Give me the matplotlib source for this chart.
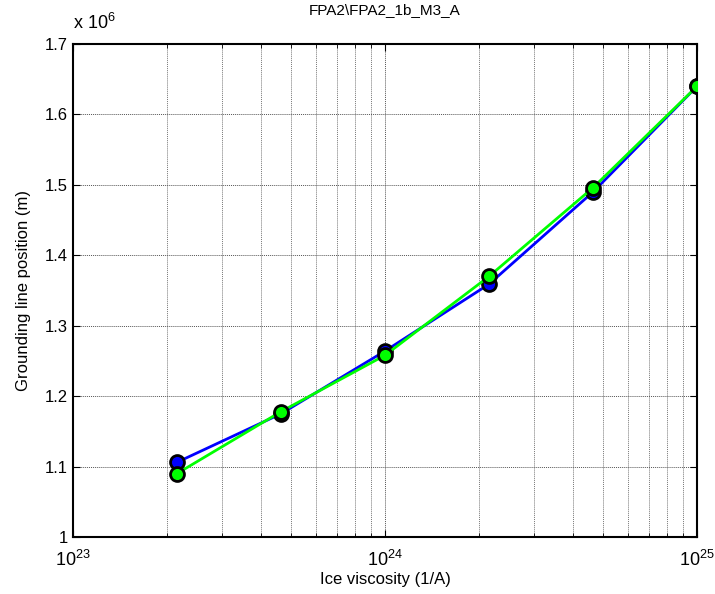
import matplotlib.pyplot as plt
from matplotlib.ticker import FuncFormatter, LogLocator, NullFormatter

plt.rcParams['font.family'] = ['Liberation Sans', 'DejaVu Sans']
plt.rcParams['mathtext.fontset'] = 'custom'
plt.rcParams['mathtext.rm'] = 'Liberation Sans'
plt.rcParams['mathtext.it'] = 'Liberation Sans:italic'
plt.rcParams['mathtext.bf'] = 'Liberation Sans:bold'

# ice viscosity (1/A) and grounding line positions (m)
viscosity = [2.154e23, 4.642e23, 1.0e24, 2.154e24, 4.642e24, 1.0e25]
gl_blue = [1.106e6, 1.175e6, 1.264e6, 1.359e6, 1.490e6, 1.640e6]
gl_green = [1.090e6, 1.178e6, 1.258e6, 1.370e6, 1.496e6, 1.640e6]
title = 'FPA2\\FPA2_1b_M3_A'

fig = plt.figure(figsize=(7.15, 5.94), dpi=100)
ax = fig.add_axes([0.102, 0.096, 0.873, 0.830])

ax.plot(viscosity, gl_blue, color='#0000ff', lw=2, marker='o', ms=10,
        mfc='#0000ff', mec='black', mew=2, zorder=3)
ax.plot(viscosity, gl_green, color='#00ff00', lw=2, marker='o', ms=10,
        mfc='#00ff00', mec='black', mew=2, zorder=4)

ax.set_xscale('log')
ax.set_xlim(1e23, 1e25)
ax.set_ylim(1.0e6, 1.7e6)
ax.set_yticks([1.0e6, 1.1e6, 1.2e6, 1.3e6, 1.4e6, 1.5e6, 1.6e6, 1.7e6])
ax.yaxis.set_major_formatter(FuncFormatter(lambda v, p: '%g' % (v / 1e6)))
ax.xaxis.set_minor_locator(LogLocator(base=10, subs=range(2, 10)))
ax.xaxis.set_minor_formatter(NullFormatter())

ax.grid(True, which='major', color='#555555', lw=0.7, ls=(0, (1, 1)))
ax.grid(True, which='minor', axis='x', color='#777777', lw=0.7, ls=(0, (1, 1)))

ax.tick_params(which='both', direction='in', top=True, right=True, labelsize=12)
ax.tick_params(axis='x', which='major', labelsize=13, pad=9)
ax.tick_params(which='major', length=5)
ax.tick_params(which='minor', length=3)
for s in ax.spines.values():
    s.set_linewidth(1.5)

ax.set_xlabel('Ice viscosity (1/A)', fontsize=12, labelpad=2)
ax.set_ylabel('Grounding line position (m)', fontsize=12, labelpad=10)
fig.text(0.538, 1 - 10 / 594, title, fontsize=11, ha='center', va='center')
ax.text(0.0, 1.022, r'x 10$^{6}$', transform=ax.transAxes, fontsize=13,
        ha='left', va='bottom')

fig.savefig('out.png', dpi=100)
